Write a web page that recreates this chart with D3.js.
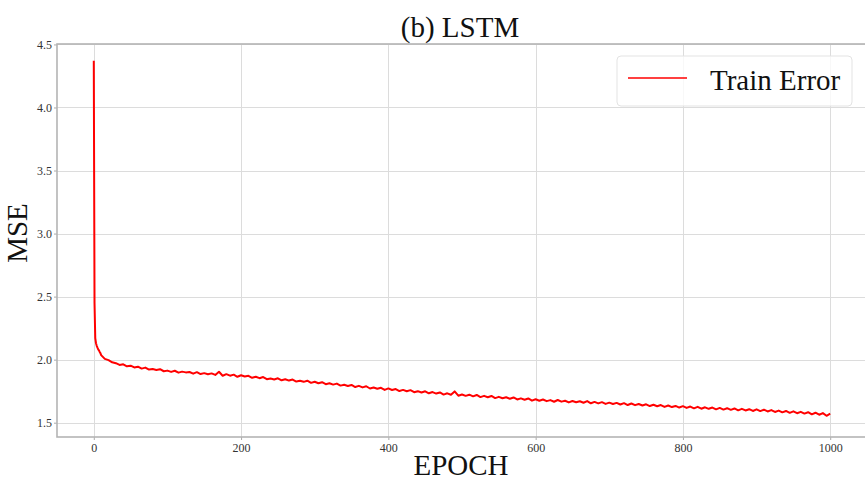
<!DOCTYPE html>
<html>
<head>
<meta charset="UTF-8">
<title>LSTM</title>
<script src="https://cdn.jsdelivr.net/npm/d3@7/dist/d3.min.js"></script>
<style>
    body{ margin:0; background:#fff; }
    svg{ display:block; font-family:"Liberation Serif","Times New Roman",serif; }
    .grid-line{ stroke:#dcdcdc; stroke-width:1; shape-rendering:crispEdges; }
    .axis path{ display:none; }
    .axis line{ stroke:#aaa; }
    .axis text{ fill:#333; }
    .spine{ stroke:#b4b4b4; stroke-width:1.6; fill:none; }
    .line0{ fill:none; stroke:#ff0000; stroke-width:2; stroke-linejoin:round; }
</style>
</head>
<body>
<div id="root"></div>
<script>
    // epochs 0..9
    const earlyEpochs = [0, 1, 2, 3, 4, 5, 6, 7, 8, 9]
    const earlyError = [4.37, 2.45, 2.17, 2.13, 2.11, 2.095, 2.082, 2.074, 2.061, 2.052]
    // epochs 10, 15, 20 ... 1000 (every 5 epochs)
    const laterStart = 10
    const laterStep = 5
    const laterError = [
        2.036, 2.006, 1.996, 1.979, 1.972, 1.958, 1.963, 1.947, 1.952, 1.938,
        1.944, 1.929, 1.937, 1.921, 1.926, 1.918, 1.924, 1.908, 1.913, 1.903,
        1.912, 1.897, 1.905, 1.899, 1.902, 1.889, 1.901, 1.886, 1.893, 1.884,
        1.891, 1.879, 1.904, 1.872, 1.885, 1.873, 1.881, 1.864, 1.876, 1.866,
        1.872, 1.856, 1.864, 1.853, 1.862, 1.845, 1.851, 1.843, 1.852, 1.836,
        1.845, 1.834, 1.842, 1.826, 1.832, 1.824, 1.833, 1.816, 1.825, 1.813,
        1.821, 1.805, 1.813, 1.802, 1.810, 1.794, 1.801, 1.791, 1.799, 1.783,
        1.792, 1.780, 1.789, 1.771, 1.779, 1.769, 1.777, 1.760, 1.772, 1.759,
        1.767, 1.751, 1.760, 1.749, 1.758, 1.742, 1.750, 1.739, 1.749, 1.733,
        1.743, 1.731, 1.740, 1.723, 1.733, 1.722, 1.748, 1.714, 1.724, 1.713,
        1.722, 1.709, 1.720, 1.703, 1.713, 1.702, 1.712, 1.695, 1.705, 1.694,
        1.702, 1.690, 1.700, 1.684, 1.693, 1.682, 1.692, 1.675, 1.686, 1.674,
        1.684, 1.671, 1.679, 1.666, 1.680, 1.667, 1.674, 1.661, 1.672, 1.662,
        1.670, 1.658, 1.671, 1.654, 1.665, 1.653, 1.663, 1.649, 1.659, 1.648,
        1.657, 1.644, 1.655, 1.640, 1.652, 1.639, 1.648, 1.636, 1.646, 1.632,
        1.642, 1.630, 1.640, 1.625, 1.636, 1.624, 1.633, 1.620, 1.631, 1.617,
        1.628, 1.614, 1.626, 1.611, 1.622, 1.610, 1.620, 1.606, 1.617, 1.604,
        1.615, 1.602, 1.613, 1.598, 1.610, 1.597, 1.607, 1.593, 1.606, 1.592,
        1.603, 1.589, 1.600, 1.585, 1.596, 1.582, 1.593, 1.578, 1.590, 1.575,
        1.586, 1.572, 1.583, 1.566, 1.579, 1.563, 1.576, 1.555, 1.571
    ]
    const xTicks = [0, 200, 400, 600, 800, 1000]
    const yTicks = [1.5, 2.0, 2.5, 3.0, 3.5, 4.0, 4.5]

    const data = earlyEpochs.map((e, i) => ({ x: e, y: earlyError[i] }))
        .concat(laterError.map((v, i) => ({ x: laterStart + i * laterStep, y: v })))

    const width = 865, height = 485
    const plotLeft = 57, plotTop = 44, plotRight = 867, plotBottom = 437

    const svg = d3.select('#root').append('svg').attr('width', width).attr('height', height)

    const xScale = d3.scaleLinear().domain([-49.95, 1049.95]).range([plotLeft, plotRight])
    const yScale = d3.scaleLinear().domain([1.3865, 4.5035]).range([plotBottom, plotTop])

    // grid
    svg.append('g').selectAll('line').data(xTicks).enter().append('line')
        .attr('class', 'grid-line')
        .attr('x1', d => Math.round(xScale(d)) + 0.5).attr('x2', d => Math.round(xScale(d)) + 0.5)
        .attr('y1', plotTop).attr('y2', plotBottom)
    svg.append('g').selectAll('line').data(yTicks).enter().append('line')
        .attr('class', 'grid-line')
        .attr('x1', plotLeft).attr('x2', plotRight)
        .attr('y1', d => Math.round(yScale(d)) + 0.5).attr('y2', d => Math.round(yScale(d)) + 0.5)

    // axes
    svg.append('g').attr('class', 'axis')
        .attr('transform', `translate(0,${plotBottom})`)
        .call(d3.axisBottom(xScale).tickValues(xTicks).tickSize(3).tickPadding(3).tickFormat(d3.format('d')))
        .attr('font-family', '"Liberation Serif", serif').attr('font-size', 12)
    svg.append('g').attr('class', 'axis')
        .attr('transform', `translate(${plotLeft},0)`)
        .call(d3.axisLeft(yScale).tickValues(yTicks).tickSize(3).tickPadding(2).tickFormat(d3.format('.1f')))
        .attr('font-family', '"Liberation Serif", serif').attr('font-size', 12)

    // spines
    svg.append('rect').attr('class', 'spine')
        .attr('x', plotLeft).attr('y', plotTop).attr('width', plotRight - plotLeft).attr('height', plotBottom - plotTop)

    // line
    const line = d3.line().x(d => xScale(d.x)).y(d => yScale(d.y))
    svg.append('path').datum(data).attr('class', 'line0').attr('d', line)

    // title and labels
    svg.append('text').attr('x', 460).attr('y', 37).attr('text-anchor', 'middle')
        .attr('font-size', 29).attr('fill', '#111').text('(b) LSTM')
    svg.append('text').attr('x', 461).attr('y', 475).attr('text-anchor', 'middle')
        .attr('font-size', 29).attr('fill', '#111').text('EPOCH')
    svg.append('text').attr('transform', 'translate(27,233) rotate(-90)').attr('text-anchor', 'middle')
        .attr('font-size', 29).attr('fill', '#111').text('MSE')

    // legend
    const lg = svg.append('g')
    lg.append('rect').attr('x', 617).attr('y', 56).attr('width', 235).attr('height', 50).attr('rx', 4)
        .attr('fill', 'rgba(255,255,255,0.8)').attr('stroke', '#e3e3e3').attr('stroke-width', 1)
    lg.append('line').attr('x1', 628).attr('x2', 687).attr('y1', 78).attr('y2', 78)
        .attr('stroke', '#ff0000').attr('stroke-width', 1.5)
    lg.append('text').attr('x', 710).attr('y', 90).attr('font-size', 29).attr('fill', '#111').text('Train Error')
</script>
</body>
</html>
